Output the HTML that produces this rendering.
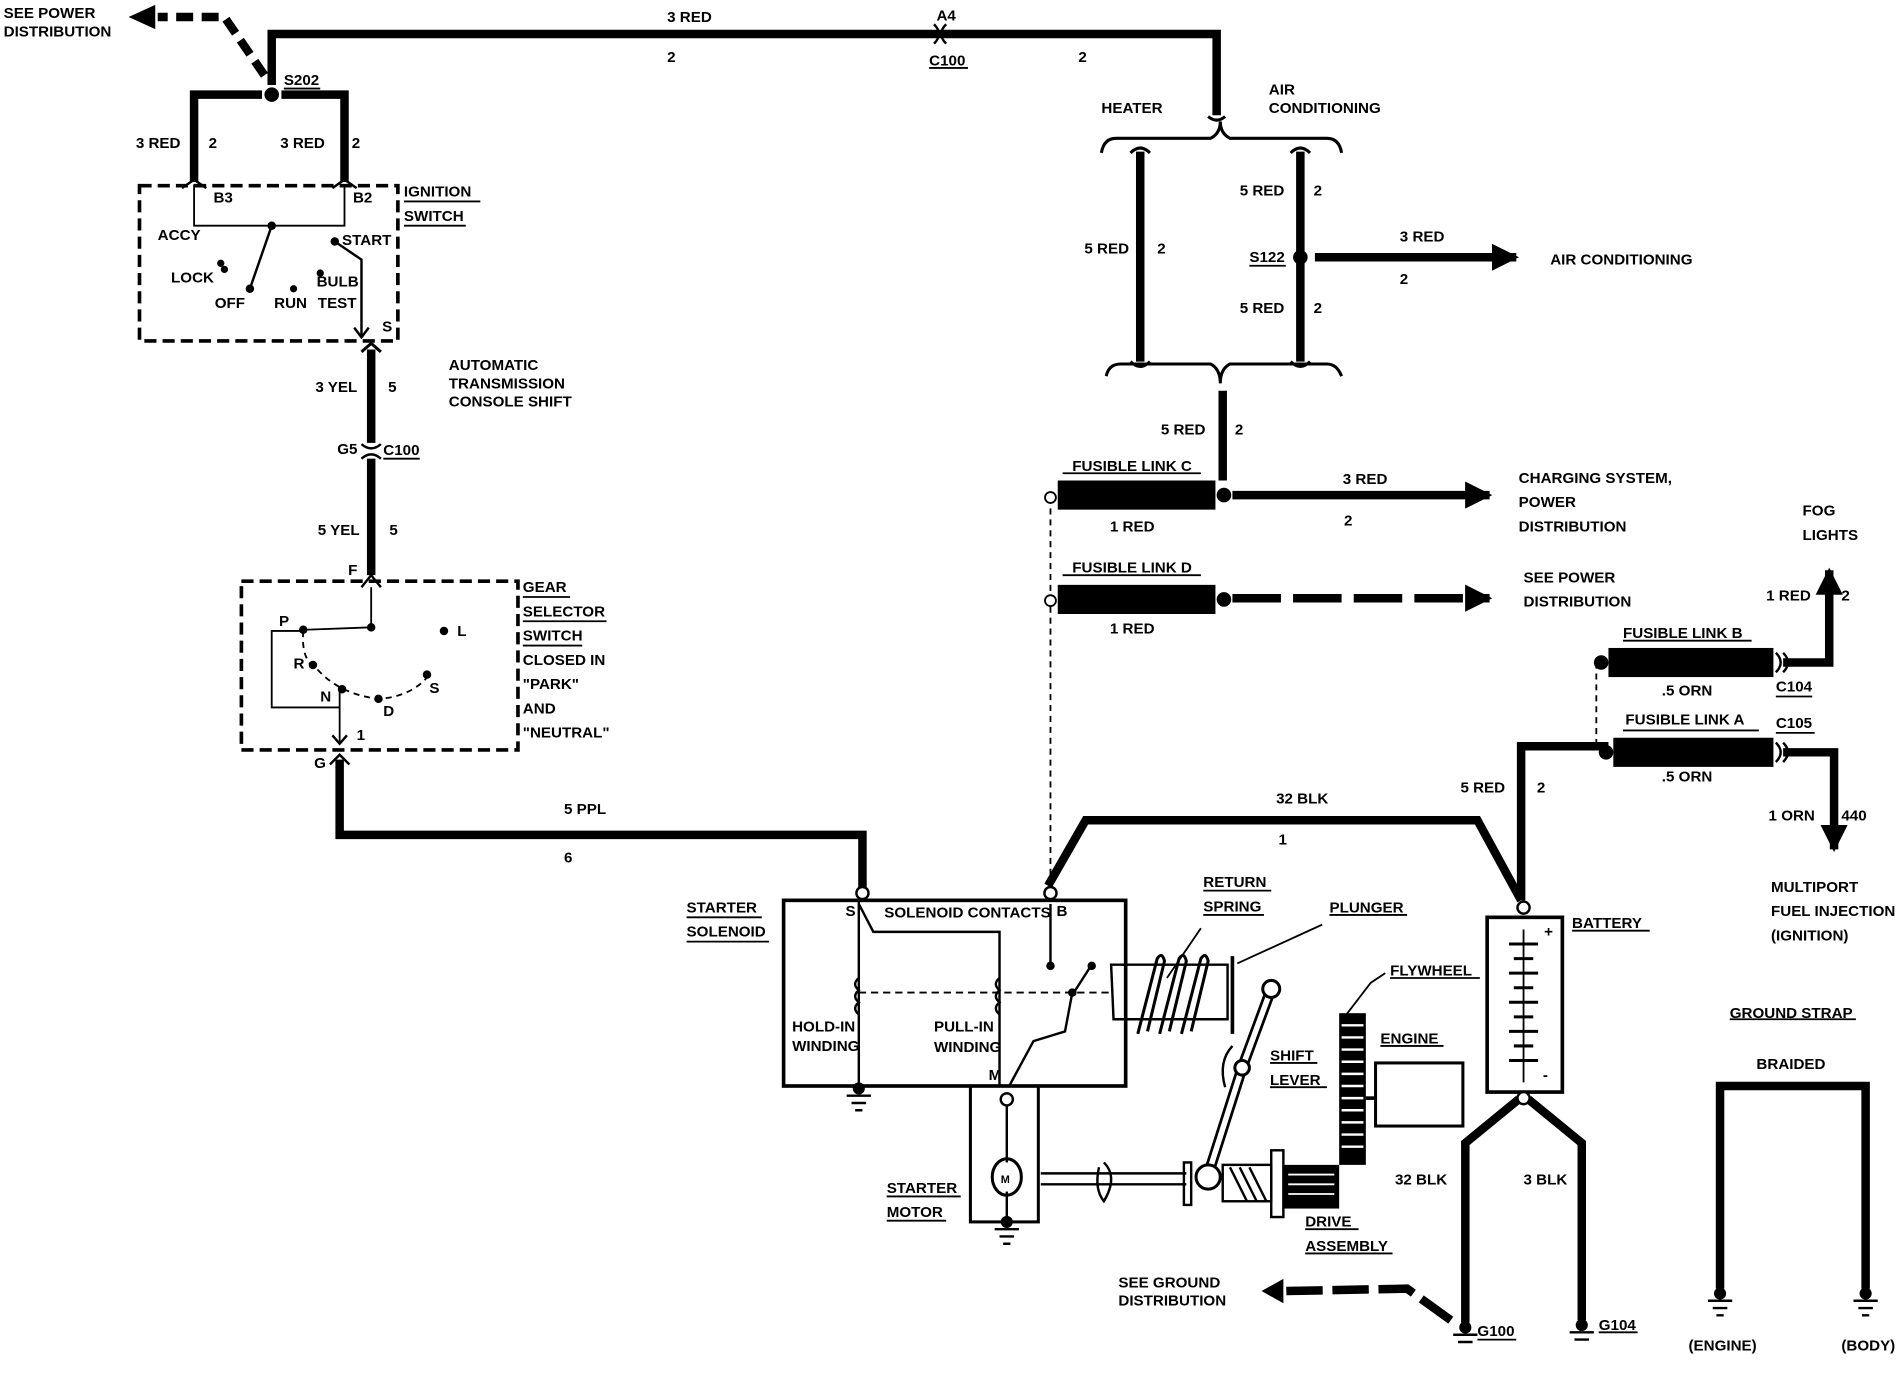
<!DOCTYPE html>
<html><head><meta charset="utf-8"><style>
html,body{margin:0;padding:0;background:#fff;}
svg{display:block;}
text{font-family:"Liberation Sans",sans-serif;font-weight:bold;font-size:12.5px;fill:#000;}
.n{font-family:"Liberation Sans Narrow","Liberation Sans",sans-serif;}
</style></head><body>
<svg width="1902" height="1376" viewBox="0 0 1568 1134" preserveAspectRatio="none" xmlns="http://www.w3.org/2000/svg">
<defs>
<marker id="ah" viewBox="0 0 10 10" refX="9" refY="5" markerWidth="3.2" markerHeight="3.2" orient="auto"><path d="M0,0 L10,5 L0,10 Z" fill="#000"/></marker>
</defs>
<g fill="none" stroke="#000" stroke-width="7">
<polyline points="224,70 224,28 1003,28 1003,95"/>
<polyline points="218,62 185,14 130,14" stroke-dasharray="14,7"/>
<polyline points="160,150 160,78 216,78"/>
<polyline points="232,78 284,78 284,150"/>
<line x1="306" y1="288" x2="306" y2="365"/>
<line x1="306" y1="378" x2="306" y2="474"/>
<polyline points="280,626 280,688 711,688 711,735"/>
<line x1="940" y1="125" x2="940" y2="298"/>
<line x1="1072" y1="125" x2="1072" y2="298"/>
<line x1="1084" y1="212" x2="1250" y2="212" marker-end="url(#ah)"/>
<line x1="1008" y1="322" x2="1008" y2="396"/>
<line x1="1016" y1="408" x2="1228" y2="408" marker-end="url(#ah)"/>
<line x1="1016" y1="493" x2="1228" y2="493" stroke-dasharray="40,10" marker-end="url(#ah)"/>
<polyline points="864,730 895,676 1218,676 1254,742"/>
<polyline points="1254,742 1254,615 1326,615"/>
<polyline points="1470,546 1508,546 1508,470" marker-end="url(#ah)"/>
<polyline points="1470,620 1512,620 1512,700" marker-end="url(#ah)"/>
<polyline points="1252,906 1208,942 1208,1090"/>
<polyline points="1260,906 1304,942 1304,1088"/>
<polyline points="1196,1088 1160,1062 1060,1064" stroke-dasharray="30,8"/>
<polyline points="1418,1062 1418,895 1538,895 1538,1062"/>
</g>
<path d="M106,14 L128,4 L128,24 Z"/>
<path d="M1040,1064 L1058,1054 L1058,1074 Z"/>
<circle cx="224" cy="78" r="6"/>
<path d="M770,20 Q778,28 770,36 M780,20 Q772,28 780,36" stroke="#000" stroke-width="2" fill="none"/>
<path d="M298,366 Q306,373 314,366 M298,378 Q306,371 314,378" stroke="#000" stroke-width="2" fill="none"/>
<g stroke="#000" stroke-width="2.5" fill="none">
<path d="M908,126 Q910,114 920,114 L998,114 Q1006,110 1006,100 Q1006,110 1014,114 L1094,114 Q1104,114 1106,126"/>
<path d="M912,310 Q914,300 924,300 L998,300 Q1006,304 1006,316 Q1006,304 1014,300 L1094,300 Q1102,300 1106,310"/>
<path d="M996,96 Q1003,102 1010,96"/>
<path d="M932,126 Q940,118 948,126 M1064,126 Q1072,118 1080,126 M932,298 Q940,306 948,298 M1064,298 Q1072,306 1080,298"/>
<polyline points="866,410 866,735" stroke-dasharray="5,4" stroke-width="1.5"/>
<polyline points="1316,546 1316,616" stroke-dasharray="5,4" stroke-width="1.5"/>
</g>
<circle cx="1072" cy="212" r="6"/>
<rect x="872" y="396" width="130" height="24"/>
<rect x="872" y="482" width="130" height="24"/>
<rect x="1326" y="534" width="136" height="24"/>
<rect x="1330" y="608" width="132" height="24"/>
<circle cx="1009" cy="408" r="6"/><circle cx="1009" cy="494" r="6"/>
<circle cx="1320" cy="546" r="6"/><circle cx="1324" cy="620" r="6"/>
<circle cx="866" cy="410" r="4.5" fill="#fff" stroke="#000" stroke-width="1.5"/>
<circle cx="866" cy="495" r="4.5" fill="#fff" stroke="#000" stroke-width="1.5"/>
<path d="M1464,538 Q1472,546 1464,554 M1470,538 Q1478,546 1470,554 M1464,612 Q1472,620 1464,628 M1470,612 Q1478,620 1470,628" stroke="#000" stroke-width="2" fill="none"/>
<g fill="none" stroke="#000">
<rect x="115" y="153" width="213" height="128" stroke-width="3" stroke-dasharray="10,5"/>
<polyline points="160,152 160,186 284,186 284,152" stroke-width="1.5"/>
<path d="M150,155 L160,148 L170,155 M274,155 L284,148 L294,155" stroke-width="2"/>
<line x1="224" y1="186" x2="206" y2="238" stroke-width="2"/>
<polyline points="276,199 298,214 298,277" stroke-width="2"/>
<path d="M292,270 L298,278 L304,270" stroke-width="2"/>
<path d="M298,290 L306,283 L314,290" stroke-width="2.5"/>
<rect x="199" y="479" width="228" height="139" stroke-width="3" stroke-dasharray="10,5"/>
<path d="M298,484 L306,474 L314,484" stroke-width="2"/>
<polyline points="306,484 306,517 252,519" stroke-width="1.5"/>
<polyline points="248,520 224,520 224,583 280,583" stroke-width="1.5"/>
<line x1="280" y1="568" x2="280" y2="612" stroke-width="1.5"/>
<path d="M274,606 L280,613 L286,606 M272,630 L280,622 L288,630" stroke-width="2"/>
<path d="M250,520 Q248,545 262,552 Q280,572 312,576 Q340,574 354,556" stroke-width="1.5" stroke-dasharray="5,4"/>
<rect x="646" y="742" width="282" height="153" stroke-width="3"/>
<polyline points="708,742 708,895" stroke-width="2"/>
<polyline points="708,745 720,768 824,768 824,895" stroke-width="2"/>
<polyline points="866,745 866,795" stroke-width="2"/>
<polyline points="884,818 878,850 852,858 832,895" stroke-width="2"/>
<line x1="884" y1="820" x2="900" y2="795" stroke-width="2"/>
<line x1="708" y1="818" x2="918" y2="818" stroke-width="1.5" stroke-dasharray="6,4"/>
<path d="M708,806 q-6,5 0,10 q-6,5 0,10 q-6,5 0,10 M824,806 q-6,5 0,10 q-6,5 0,10 q-6,5 0,10" stroke-width="2"/>
<rect x="800" y="895" width="56" height="112" stroke-width="2.5"/>
<line x1="830" y1="910" x2="830" y2="958" stroke-width="2"/>
<line x1="830" y1="982" x2="830" y2="1005" stroke-width="2"/>
<ellipse cx="830" cy="970" rx="12" ry="15" stroke-width="2.5"/>
<line x1="858" y1="967" x2="978" y2="967" stroke-width="2"/>
<line x1="858" y1="976" x2="978" y2="976" stroke-width="2"/>
<path d="M910,958 Q922,970 910,990 Q902,980 906,962" stroke-width="2"/>
<polygon points="916,795 1012,795 1012,840 918,840" stroke-width="2"/>
<line x1="1016" y1="788" x2="1016" y2="852" stroke-width="3"/>
<path d="M938,852 L954,790 Q958,784 960,792 L946,850 M956,852 L972,790 Q976,784 978,792 L964,850 M974,852 L990,790 Q994,784 996,792 L982,850" stroke-width="2.5"/>
<path d="M1048,815 L1024,880 L996,968" stroke-width="9" stroke-linecap="round"/>
<path d="M1048,815 L1024,880 L996,968" stroke-width="4.5" stroke="#fff" stroke-linecap="round"/>
<circle cx="1048" cy="815" r="7" stroke-width="2.5" fill="#fff"/>
<circle cx="1024" cy="880" r="6" stroke-width="2.5" fill="#fff"/>
<circle cx="996" cy="970" r="10" stroke-width="2.5" fill="#fff"/>
<path d="M1016,862 Q1004,875 1010,896" stroke-width="2"/>
<rect x="976" y="958" width="6" height="35" stroke-width="2"/>
<rect x="1008" y="960" width="40" height="30" stroke-width="2"/>
<rect x="1048" y="948" width="10" height="55" stroke-width="2"/>
<rect x="1134" y="876" width="72" height="52" stroke-width="2.5"/>
<line x1="1126" y1="905" x2="1134" y2="905" stroke-width="3"/>
<line x1="990" y1="765" x2="962" y2="806" stroke-width="1.5"/>
<line x1="1090" y1="762" x2="1020" y2="794" stroke-width="1.5"/>
<polyline points="1142,802 1130,810 1110,836" stroke-width="1.5"/>
<rect x="1226" y="756" width="62" height="144" stroke-width="3"/>
<line x1="1256" y1="766" x2="1256" y2="892" stroke-width="1.5"/>
</g>
<g stroke="#000" stroke-width="2"><path d="M1014,962 L1028,990 M1022,962 L1036,990 M1030,962 L1044,990"/></g>
<rect x="1058" y="960" width="46" height="36" fill="#000"/>
<g stroke="#fff" stroke-width="1.5"><line x1="1062" y1="968" x2="1100" y2="968"/><line x1="1062" y1="976" x2="1100" y2="976"/><line x1="1062" y1="984" x2="1100" y2="984"/></g>
<rect x="1104" y="835" width="22" height="125" fill="#000"/>
<g stroke="#fff" stroke-width="2">
<line x1="1106" y1="845" x2="1124" y2="845"/><line x1="1106" y1="855" x2="1124" y2="855"/><line x1="1106" y1="865" x2="1124" y2="865"/><line x1="1106" y1="875" x2="1124" y2="875"/><line x1="1106" y1="885" x2="1124" y2="885"/><line x1="1106" y1="895" x2="1124" y2="895"/><line x1="1106" y1="905" x2="1124" y2="905"/><line x1="1106" y1="915" x2="1124" y2="915"/><line x1="1106" y1="925" x2="1124" y2="925"/><line x1="1106" y1="935" x2="1124" y2="935"/><line x1="1106" y1="945" x2="1124" y2="945"/>
</g>
<g stroke="#000" stroke-width="2.5">
<line x1="1244" y1="778" x2="1268" y2="778"/><line x1="1248" y1="790" x2="1264" y2="790"/><line x1="1244" y1="802" x2="1268" y2="802"/><line x1="1248" y1="814" x2="1264" y2="814"/><line x1="1244" y1="826" x2="1268" y2="826"/><line x1="1248" y1="838" x2="1264" y2="838"/><line x1="1244" y1="850" x2="1268" y2="850"/><line x1="1248" y1="862" x2="1264" y2="862"/><line x1="1244" y1="874" x2="1268" y2="874"/>
</g>
<g fill="#fff" stroke="#000" stroke-width="2">
<circle cx="711" cy="736" r="5"/><circle cx="866" cy="736" r="5"/><circle cx="830" cy="906" r="5"/><circle cx="1256" cy="748" r="5"/><circle cx="1256" cy="905" r="5"/>
</g>
<g>
<circle cx="224" cy="186" r="3.5"/><circle cx="276" cy="199" r="3.5"/><circle cx="182" cy="217" r="3"/><circle cx="185" cy="222" r="3"/><circle cx="206" cy="238" r="3.5"/><circle cx="242" cy="238" r="3"/><circle cx="264" cy="225" r="3"/>
<circle cx="306" cy="517" r="3.5"/><circle cx="250" cy="519" r="3.5"/><circle cx="258" cy="548" r="3.5"/><circle cx="282" cy="568" r="3.5"/><circle cx="312" cy="576" r="3.5"/><circle cx="352" cy="556" r="3.5"/><circle cx="366" cy="520" r="3.5"/>
<circle cx="866" cy="796" r="3.5"/><circle cx="900" cy="796" r="3.5"/><circle cx="884" cy="818" r="3.5"/>
<circle cx="708" cy="897" r="5"/><circle cx="830" cy="1007" r="5"/>
<circle cx="1208" cy="1094" r="5"/><circle cx="1304" cy="1092" r="5"/><circle cx="1418" cy="1066" r="5"/><circle cx="1538" cy="1066" r="5"/>
</g>
<g stroke="#000" stroke-width="2">
<path d="M698,903h20M702,909h12M705,915h6"/><path d="M820,1013h20M824,1019h12M827,1025h6"/>
<path d="M1198,1100h20M1202,1106h12"/><path d="M1294,1098h20M1298,1104h12"/><path d="M1408,1072h20M1412,1078h12M1415,1084h6"/><path d="M1528,1072h20M1532,1078h12M1535,1084h6"/>
</g>
<g stroke="#000" stroke-width="1.5">
<line x1="234" y1="73" x2="264" y2="73"/>
<line x1="766" y1="56" x2="798" y2="56"/>
<line x1="333" y1="166" x2="396" y2="166"/><line x1="333" y1="186" x2="384" y2="186"/>
<line x1="316" y1="378" x2="346" y2="378"/>
<line x1="431" y1="492" x2="470" y2="492"/><line x1="431" y1="512" x2="500" y2="512"/><line x1="431" y1="532" x2="480" y2="532"/>
<line x1="1030" y1="219" x2="1060" y2="219"/>
<line x1="876" y1="390" x2="990" y2="390"/><line x1="876" y1="474" x2="990" y2="474"/>
<line x1="1338" y1="528" x2="1444" y2="528"/><line x1="1338" y1="602" x2="1450" y2="602"/>
<line x1="1464" y1="574" x2="1494" y2="574"/><line x1="1464" y1="604" x2="1496" y2="604"/>
<line x1="566" y1="756" x2="628" y2="756"/><line x1="566" y1="776" x2="634" y2="776"/>
<line x1="992" y1="734" x2="1048" y2="734"/><line x1="992" y1="754" x2="1042" y2="754"/><line x1="1096" y1="754" x2="1160" y2="754"/>
<line x1="1146" y1="806" x2="1220" y2="806"/><line x1="1296" y1="767" x2="1360" y2="767"/>
<line x1="1138" y1="862" x2="1190" y2="862"/><line x1="1047" y1="876" x2="1086" y2="876"/><line x1="1047" y1="896" x2="1094" y2="896"/>
<line x1="731" y1="986" x2="792" y2="986"/><line x1="731" y1="1006" x2="780" y2="1006"/>
<line x1="1076" y1="1013" x2="1120" y2="1013"/><line x1="1076" y1="1033" x2="1148" y2="1033"/>
<line x1="1426" y1="840" x2="1530" y2="840"/>
<line x1="1218" y1="1104" x2="1250" y2="1104"/><line x1="1318" y1="1098" x2="1350" y2="1098"/>
</g>
<text x="3" y="15">SEE POWER</text><text x="3" y="30">DISTRIBUTION</text>
<text x="550" y="18" class="n">3 RED</text><text x="550" y="51">2</text>
<text x="772" y="17">A4</text><text x="766" y="54" class="n">C100</text><text x="889" y="51">2</text>
<text x="234" y="70" class="n">S202</text>
<text x="112" y="122" class="n">3 RED</text><text x="172" y="122">2</text>
<text x="231" y="122" class="n">3 RED</text><text x="290" y="122">2</text>
<text x="333" y="162" class="n">IGNITION</text><text x="333" y="182" class="n">SWITCH</text>
<g style="font-size:11px" class="n">
<text x="176" y="167">B3</text><text x="291" y="167">B2</text>
<text x="130" y="198">ACCY</text><text x="282" y="202">START</text>
<text x="141" y="233">LOCK</text><text x="261" y="236">BULB</text>
<text x="177" y="254">OFF</text><text x="226" y="254">RUN</text><text x="262" y="254">TEST</text>
<text x="315" y="273">S</text>
<text x="230" y="516">P</text><text x="242" y="551">R</text><text x="264" y="578">N</text><text x="316" y="590">D</text><text x="354" y="571">S</text><text x="377" y="524">L</text>
<text x="294" y="610">1</text>
<text x="697" y="755">S</text><text x="729" y="756">SOLENOID CONTACTS</text><text x="871" y="755">B</text>
<text x="653" y="850">HOLD-IN</text><text x="653" y="866">WINDING</text>
<text x="770" y="850">PULL-IN</text><text x="770" y="867">WINDING</text>
<text x="815" y="890">M</text><text x="825" y="975" style="font-size:9px">M</text>
<text x="1273" y="772">+</text><text x="1272" y="890">-</text>
</g>
<text x="370" y="305">AUTOMATIC</text><text x="370" y="320">TRANSMISSION</text><text x="370" y="335">CONSOLE SHIFT</text>
<text x="260" y="323" class="n">3 YEL</text><text x="320" y="323">5</text>
<text x="278" y="374" class="n">G5</text><text x="316" y="375" class="n">C100</text>
<text x="262" y="441" class="n">5 YEL</text><text x="321" y="441">5</text>
<text x="287" y="474" class="n">F</text><text x="259" y="633" class="n">G</text>
<text x="431" y="488" class="n">GEAR</text><text x="431" y="508" class="n">SELECTOR</text><text x="431" y="528" class="n">SWITCH</text>
<text x="431" y="548" class="n">CLOSED IN</text><text x="431" y="568" class="n">"PARK"</text><text x="431" y="588" class="n">AND</text><text x="431" y="608" class="n">"NEUTRAL"</text>
<text x="465" y="671" class="n">5 PPL</text><text x="465" y="711">6</text>
<text x="908" y="93" class="n">HEATER</text><text x="1046" y="78" class="n">AIR</text><text x="1046" y="93" class="n">CONDITIONING</text>
<text x="894" y="209" class="n">5 RED</text><text x="954" y="209">2</text>
<text x="1022" y="161" class="n">5 RED</text><text x="1083" y="161">2</text>
<text x="1030" y="216" class="n">S122</text>
<text x="1022" y="258" class="n">5 RED</text><text x="1083" y="258">2</text>
<text x="1154" y="199" class="n">3 RED</text><text x="1154" y="234">2</text>
<text x="1278" y="218" class="n">AIR CONDITIONING</text>
<text x="957" y="358" class="n">5 RED</text><text x="1018" y="358">2</text>
<text x="884" y="388" class="n">FUSIBLE LINK C</text><text x="915" y="438" class="n">1 RED</text>
<text x="1107" y="399" class="n">3 RED</text><text x="1108" y="433">2</text>
<text x="1252" y="398" class="n">CHARGING SYSTEM,</text><text x="1252" y="418" class="n">POWER</text><text x="1252" y="438" class="n">DISTRIBUTION</text>
<text x="884" y="472" class="n">FUSIBLE LINK D</text><text x="915" y="522" class="n">1 RED</text>
<text x="1256" y="480" class="n">SEE POWER</text><text x="1256" y="500" class="n">DISTRIBUTION</text>
<text x="1486" y="425" class="n">FOG</text><text x="1486" y="445" class="n">LIGHTS</text>
<text x="1456" y="495" class="n">1 RED</text><text x="1518" y="495">2</text>
<text x="1338" y="526" class="n">FUSIBLE LINK B</text><text x="1370" y="573" class="n">.5 ORN</text><text x="1464" y="570" class="n">C104</text>
<text x="1340" y="597" class="n">FUSIBLE LINK A</text><text x="1464" y="600" class="n">C105</text><text x="1370" y="644" class="n">.5 ORN</text>
<text x="1204" y="653" class="n">5 RED</text><text x="1267" y="653">2</text>
<text x="1052" y="662" class="n">32 BLK</text><text x="1054" y="696">1</text>
<text x="1458" y="676" class="n">1 ORN</text><text x="1518" y="676">440</text>
<text x="1460" y="735" class="n">MULTIPORT</text><text x="1460" y="755" class="n">FUEL INJECTION</text><text x="1460" y="775" class="n">(IGNITION)</text>
<text x="566" y="752" class="n">STARTER</text><text x="566" y="772" class="n">SOLENOID</text>
<text x="992" y="731" class="n">RETURN</text><text x="992" y="751" class="n">SPRING</text>
<text x="1096" y="752" class="n">PLUNGER</text><text x="1146" y="804" class="n">FLYWHEEL</text>
<text x="1296" y="765" class="n">BATTERY</text>
<text x="1138" y="860" class="n">ENGINE</text>
<text x="1047" y="874" class="n">SHIFT</text><text x="1047" y="894" class="n">LEVER</text>
<text x="731" y="983" class="n">STARTER</text><text x="731" y="1003" class="n">MOTOR</text>
<text x="1076" y="1011" class="n">DRIVE</text><text x="1076" y="1031" class="n">ASSEMBLY</text>
<text x="1150" y="976" class="n">32 BLK</text><text x="1256" y="976" class="n">3 BLK</text>
<text x="922" y="1061">SEE GROUND</text><text x="922" y="1076">DISTRIBUTION</text>
<text x="1218" y="1101" class="n">G100</text><text x="1318" y="1096" class="n">G104</text>
<text x="1426" y="839" class="n">GROUND STRAP</text><text x="1448" y="881" class="n">BRAIDED</text>
<text x="1392" y="1113" class="n">(ENGINE)</text><text x="1518" y="1113" class="n">(BODY)</text>
</svg>
</body></html>
